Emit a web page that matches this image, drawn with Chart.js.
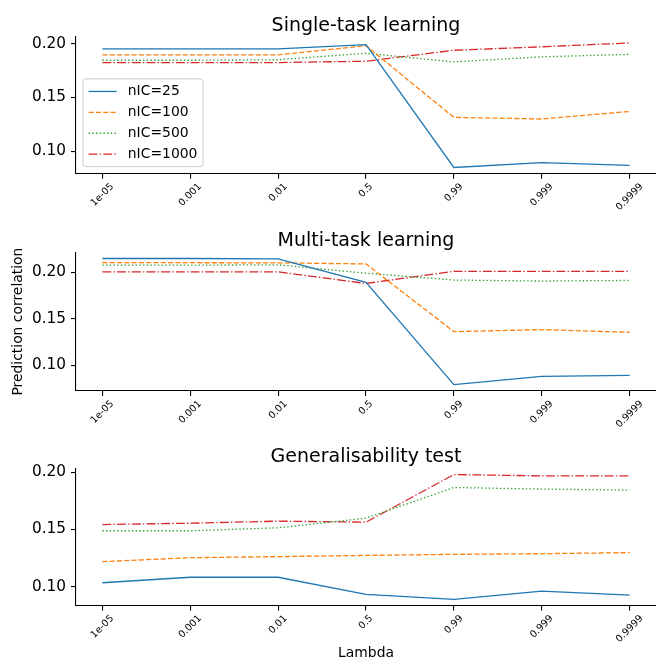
<!DOCTYPE html>
<html>
<head>
<meta charset="utf-8">
<script src="https://cdn.jsdelivr.net/npm/chart.js@4.4.1/dist/chart.umd.min.js"></script>
<style>
  html, body { margin: 0; padding: 0; background: #fff; }
  #wrap { position: relative; width: 656px; height: 660px; }
  #wrap canvas { position: absolute; left: 0; }
</style>
</head>
<body>
<div id="wrap">
  <canvas id="c1" width="656" height="220" style="top:0px"></canvas>
  <canvas id="c2" width="656" height="220" style="top:220px"></canvas>
  <canvas id="c3" width="656" height="220" style="top:440px"></canvas>
</div>
<script>
// lambda values on the x axis
var lambdas = ['1e-05', '0.001', '0.01', '0.5', '0.99', '0.999', '0.9999'];
var seriesNames = ['nIC=25', 'nIC=100', 'nIC=500', 'nIC=1000'];
var yTicks = [0.10, 0.15, 0.20];

// single-task learning
var stl25   = [0.195, 0.195, 0.195, 0.199, 0.085, 0.0895, 0.087];
var stl100  = [0.1895, 0.1895, 0.1895, 0.198, 0.1315, 0.130, 0.137];
var stl500  = [0.1845, 0.1845, 0.185, 0.191, 0.183, 0.1877, 0.190];
var stl1000 = [0.1824, 0.1824, 0.1824, 0.1836, 0.1938, 0.197, 0.2006];

// multi-task learning
var mtl25   = [0.2148, 0.2148, 0.2145, 0.1892, 0.0794, 0.0884, 0.0895];
var mtl100  = [0.2105, 0.2103, 0.2101, 0.209, 0.1363, 0.1385, 0.1356];
var mtl500  = [0.2077, 0.2077, 0.208, 0.199, 0.1917, 0.1906, 0.1913];
var mtl1000 = [0.2005, 0.2005, 0.2005, 0.188, 0.201, 0.201, 0.201];

// generalisability test
var gen25   = [0.1035, 0.1083, 0.1083, 0.0933, 0.089, 0.0962, 0.0927];
var gen100  = [0.1219, 0.1254, 0.1263, 0.1274, 0.1283, 0.1289, 0.1298];
var gen500  = [0.1489, 0.1489, 0.1515, 0.1599, 0.1867, 0.1853, 0.1844];
var gen1000 = [0.1543, 0.1555, 0.1573, 0.1564, 0.198, 0.1968, 0.1968];

var FONT = '"DejaVu Sans", sans-serif';
var colors = ['#1f77b4', '#ff7f0e', '#2ca02c', '#d62728'];
var dashes = [[], [5.1, 2.2], [1.4, 2.3], [8.9, 2.2, 1.4, 2.2]];

function makeDatasets(series) {
    return series.map(function (vals, k) {
        return {
            label: seriesNames[k],
            data: vals.map(function (v, i) { return { x: i, y: v }; }),
            borderColor: colors[k],
            borderDash: dashes[k],
            borderWidth: 1.3,
            pointRadius: 0,
            fill: false
        };
    });
}

// matplotlib-style 5% margins around the data
function yLimits(series) {
    var all = [].concat.apply([], series);
    var lo = Math.min.apply(null, all), hi = Math.max.apply(null, all);
    var m = (hi - lo) * 0.05;
    return { min: lo - m, max: hi + m };
}

var panelText = {
    id: 'panelText',
    afterDraw: function (chart, args, opts) {
        var ctx = chart.ctx, a = chart.chartArea, xs = chart.scales.x;
        ctx.save();
        ctx.fillStyle = '#000';

        ctx.font = '19px ' + FONT;
        ctx.textAlign = 'center';
        ctx.textBaseline = 'alphabetic';
        ctx.fillText(opts.title, (a.left + a.right) / 2, a.top - 6);

        // rotated category labels, centred under each tick
        ctx.font = '9.7px ' + FONT;
        lambdas.forEach(function (lab, i) {
            var x = xs.getPixelForValue(i);
            var w = ctx.measureText(lab).width;
            var half = (w + 9.7 * 1.17) * Math.SQRT1_2 / 2;
            ctx.save();
            ctx.translate(x, a.bottom + 7.3 + half);
            ctx.rotate(-Math.PI / 4);
            ctx.textAlign = 'center';
            ctx.textBaseline = 'middle';
            ctx.fillText(lab, 0, 0);
            ctx.restore();
        });

        ctx.font = '13.9px ' + FONT;
        if (opts.ylabel) {
            ctx.save();
            ctx.translate(18, (a.top + a.bottom) / 2);
            ctx.rotate(-Math.PI / 2);
            ctx.textAlign = 'center';
            ctx.textBaseline = 'middle';
            ctx.fillText(opts.ylabel, 0, 0);
            ctx.restore();
        }
        if (opts.xlabel) {
            ctx.textAlign = 'center';
            ctx.textBaseline = 'middle';
            ctx.fillText(opts.xlabel, (a.left + a.right) / 2, a.bottom + 48);
        }

        if (opts.legend) {
            var fs = 13.9, pad = 5.6, hl = 28, gap = 11.2, rowH = fs, sp = 7;
            ctx.font = fs + 'px ' + FONT;
            var tw = 0;
            chart.data.datasets.forEach(function (d) { tw = Math.max(tw, ctx.measureText(d.label).width); });
            var bw = pad * 2 + hl + gap + tw;
            var n = chart.data.datasets.length;
            var bh = pad * 2 + n * rowH + (n - 1) * sp;
            var bx = a.left + 7, by = a.bottom - 7 - bh;
            ctx.beginPath();
            ctx.roundRect(bx, by, bw, bh, 3);
            ctx.fillStyle = 'rgba(255,255,255,0.8)';
            ctx.fill();
            ctx.strokeStyle = '#cccccc';
            ctx.lineWidth = 1;
            ctx.stroke();
            chart.data.datasets.forEach(function (d, k) {
                var cy = by + pad + rowH / 2 + k * (rowH + sp);
                ctx.beginPath();
                ctx.setLineDash(d.borderDash);
                ctx.strokeStyle = d.borderColor;
                ctx.lineWidth = d.borderWidth;
                ctx.moveTo(bx + pad, cy);
                ctx.lineTo(bx + pad + hl, cy);
                ctx.stroke();
                ctx.setLineDash([]);
                ctx.fillStyle = '#000';
                ctx.textAlign = 'left';
                ctx.textBaseline = 'middle';
                ctx.fillText(d.label, bx + pad + hl + gap, cy);
            });
        }
        ctx.restore();
    }
};

function makeChart(id, series, text, top, xHeight) {
    var lim = yLimits(series);
    var axisGrid = { drawOnChartArea: false, drawTicks: true, tickLength: 5, color: '#000', lineWidth: 1.1 };
    var axisBorder = { display: true, color: '#000', width: 1.1 };
    return new Chart(document.getElementById(id).getContext('2d'), {
        type: 'line',
        data: { datasets: makeDatasets(series) },
        options: {
            responsive: false,
            animation: false,
            devicePixelRatio: 1,
            layout: { padding: { top: top, left: 0, right: 0, bottom: 0 } },
            plugins: {
                legend: { display: false },
                tooltip: { enabled: false },
                panelText: text
            },
            scales: {
                x: {
                    type: 'linear',
                    min: -0.3,
                    max: lambdas.length - 1 + 0.3,
                    afterBuildTicks: function (s) { s.ticks = lambdas.map(function (_, i) { return { value: i }; }); },
                    afterFit: function (s) { s.height = xHeight; },
                    ticks: { display: false },
                    grid: axisGrid,
                    border: axisBorder
                },
                y: {
                    type: 'linear',
                    min: lim.min,
                    max: lim.max,
                    afterBuildTicks: function (s) { s.ticks = yTicks.map(function (v) { return { value: v }; }); },
                    afterFit: function (s) { s.width = 76; },
                    ticks: {
                        padding: 5,
                        color: '#000',
                        font: { family: FONT, size: 15.3 },
                        callback: function (v) { return v.toFixed(2); }
                    },
                    grid: axisGrid,
                    border: axisBorder
                }
            }
        },
        plugins: [panelText]
    });
}

makeChart('c1', [stl25, stl100, stl500, stl1000], { title: 'Single-task learning', legend: true }, 36.7, 46.3);
makeChart('c2', [mtl25, mtl100, mtl500, mtl1000], { title: 'Multi-task learning', ylabel: 'Prediction correlation' }, 32.2, 49);
makeChart('c3', [gen25, gen100, gen500, gen1000], { title: 'Generalisability test', xlabel: 'Lambda' }, 28.3, 54.4);
</script>
</body>
</html>
